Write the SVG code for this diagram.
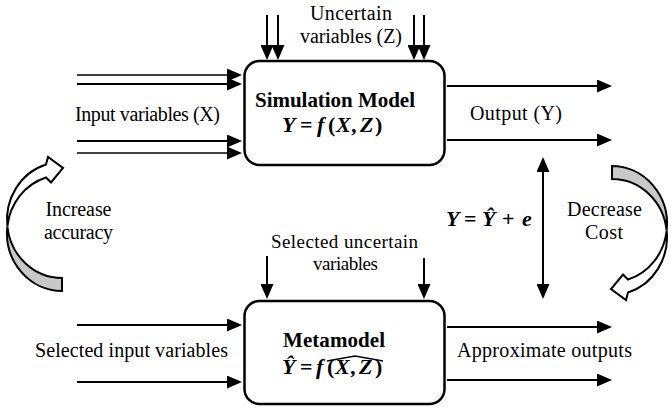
<svg xmlns="http://www.w3.org/2000/svg" width="671" height="408" viewBox="0 0 671 408" font-family="'Liberation Serif', 'DejaVu Serif', serif">
<style>
.t{font-family:'Liberation Serif','DejaVu Serif',serif;font-size:20px;fill:#000}
.s{font-size:19px}
.b{font-weight:bold;font-size:21px}
.m{font-family:'Liberation Serif','DejaVu Serif',serif;font-size:22px;font-weight:bold;font-style:italic;fill:#000}
.u{font-style:normal}
.ln{stroke:#000;stroke-width:2;fill:none}
.box{fill:#fff;stroke:#000;stroke-width:2.5}
.cw{fill:#fff;stroke:#000;stroke-width:2;stroke-linejoin:miter}
.cg{fill:#c8c8c8;stroke:#000;stroke-width:2}
</style>
<defs>
<marker id="ah" markerUnits="userSpaceOnUse" markerWidth="15" markerHeight="13" viewBox="0 0 15 13" refX="6" refY="6.5" orient="auto-start-reverse">
<path d="M0,0 L15,6.5 L0,13 Z" fill="#000"/>
</marker>
<g id="curved">
<path class="cg" d="M7.35,226.5 A55 58 0 0 0 62,291 L62,278 A55 58 0 0 1 7.35,226.5 Z"/>
<path class="cw" d="M46,164.5 L48,157 L63,168 L51,182.5 L46,177.5 A55 58 0 0 0 7.35,226.5 A55 58 0 0 1 46,164.5 Z"/>
</g>
</defs>

<g id="connectors">
<line class="ln" style="stroke-width:1.7" x1="77" y1="75" x2="233" y2="75" marker-end="url(#ah)"/>
<line class="ln" style="stroke-width:2.2" x1="77" y1="84" x2="233" y2="84" marker-end="url(#ah)"/>
<line class="ln" style="stroke-width:2.2" x1="77" y1="141" x2="233" y2="141" marker-end="url(#ah)"/>
<line class="ln" style="stroke-width:1.7" x1="77" y1="153" x2="233" y2="153" marker-end="url(#ah)"/>
<line class="ln" x1="267" y1="15" x2="267" y2="51" marker-end="url(#ah)"/>
<line class="ln" x1="278" y1="15" x2="278" y2="51" marker-end="url(#ah)"/>
<line class="ln" x1="414" y1="15" x2="414" y2="51" marker-end="url(#ah)"/>
<line class="ln" x1="424" y1="15" x2="424" y2="51" marker-end="url(#ah)"/>
<line class="ln" x1="447" y1="86" x2="603" y2="86" marker-end="url(#ah)"/>
<line class="ln" x1="447" y1="140" x2="603" y2="140" marker-end="url(#ah)"/>
<line class="ln" x1="77" y1="325" x2="233" y2="325" marker-end="url(#ah)"/>
<line class="ln" x1="77" y1="382" x2="233" y2="382" marker-end="url(#ah)"/>
<line class="ln" x1="267" y1="256" x2="267" y2="290" marker-end="url(#ah)"/>
<line class="ln" x1="424" y1="258" x2="424" y2="290" marker-end="url(#ah)"/>
<line class="ln" x1="447" y1="327" x2="603" y2="327" marker-end="url(#ah)"/>
<line class="ln" x1="447" y1="380" x2="603" y2="380" marker-end="url(#ah)"/>
<line class="ln" x1="543" y1="166" x2="543" y2="290" marker-start="url(#ah)" marker-end="url(#ah)"/>
<use id="increase-arrow" href="#curved"/>
<use id="decrease-arrow" href="#curved" transform="rotate(180 337 228.5)"/>
</g>

<g id="simulation-model">
<rect class="box" x="244.5" y="61" width="200" height="104" rx="15"/>
<text class="t b" x="335" y="107" text-anchor="middle" textLength="160">Simulation Model</text>
<text class="m" y="132"><tspan x="282">Y</tspan><tspan class="u" x="300">=</tspan><tspan x="317">f</tspan><tspan class="u" x="328">(</tspan><tspan x="336">X</tspan><tspan x="352">,</tspan><tspan x="360">Z</tspan><tspan class="u" x="375">)</tspan></text>
</g>

<g id="metamodel">
<rect class="box" x="244.5" y="301" width="200" height="103" rx="15"/>
<text class="t b" x="334" y="347" text-anchor="middle" textLength="102">Metamodel</text>
<text class="m" y="374"><tspan x="282">Ŷ</tspan><tspan class="u" x="300">=</tspan><tspan x="316">f</tspan><tspan class="u" x="327">(</tspan><tspan x="335">X</tspan><tspan x="351">,</tspan><tspan x="359">Z</tspan><tspan class="u" x="375">)</tspan></text>
<path d="M327,361 L355,356 L383,361" fill="none" stroke="#000" stroke-width="1.3"/>
</g>

<g id="labels">
<text class="t" x="351" y="20" text-anchor="middle" textLength="82">Uncertain</text>
<text class="t" x="351" y="43" text-anchor="middle" textLength="102">variables (Z)</text>
<text class="t" x="147.5" y="121" text-anchor="middle" textLength="145">Input variables (X)</text>
<text class="t" x="516" y="120" text-anchor="middle" textLength="92">Output (Y)</text>
<text class="t" x="78.5" y="216" text-anchor="middle" textLength="66">Increase</text>
<text class="t" x="78.5" y="239" text-anchor="middle" textLength="69">accuracy</text>
<text class="t" x="604.5" y="216" text-anchor="middle" textLength="75">Decrease</text>
<text class="t" x="604" y="239" text-anchor="middle" textLength="38">Cost</text>
<text class="m" y="226"><tspan x="446">Y</tspan><tspan class="u" x="464">=</tspan><tspan x="482">Ŷ</tspan><tspan class="u" x="502">+</tspan><tspan x="522">e</tspan></text>
<text class="t s" x="344.5" y="248" text-anchor="middle" textLength="147">Selected uncertain</text>
<text class="t s" x="345.5" y="270" text-anchor="middle" textLength="65">variables</text>
<text class="t" x="131.5" y="357" text-anchor="middle" textLength="193">Selected input variables</text>
<text class="t" x="544.5" y="357" text-anchor="middle" textLength="175">Approximate outputs</text>
</g>
</svg>
